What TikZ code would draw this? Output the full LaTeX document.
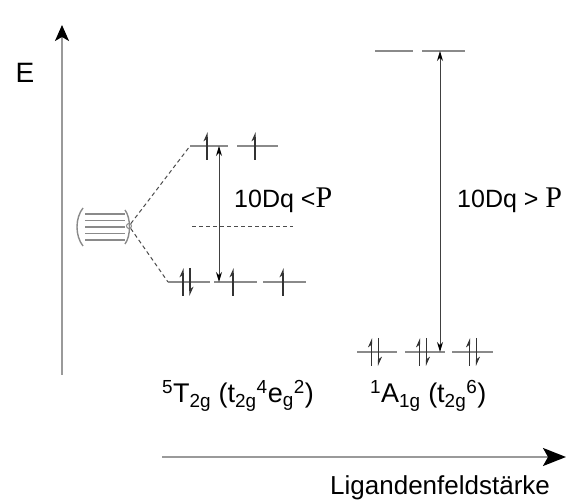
\documentclass[tikz,border=0pt]{standalone}
\usepackage{fontspec}
\setmainfont{Liberation Sans}
\newfontfamily\pserif{Liberation Serif}
\usepackage{tikz}
\usetikzlibrary{arrows.meta,calc}
\definecolor{lvlgray}{HTML}{8A8A8A}
\definecolor{axgray}{HTML}{9A9A9A}
\tikzset{
  level/.style={
    draw=lvlgray,
    line width=1.8pt
  },
  axis/.style={
    draw=axgray,
    line width=2pt,
    -{Stealth[length=16pt,width=14pt,inset=4pt,black]}
  },
  gap/.style={
    draw=black!75,
    line width=1pt,
    {Stealth[length=10pt,width=6pt,black]}-{Stealth[length=10pt,width=6pt,black]}
  },
  split/.style={
    draw=black!70,
    line width=1pt,
    dash pattern=on 4pt off 3pt
  },
  elup/.pic={
    \draw[black!80, line width=1.2pt, -{Stealth[left,length=8pt,width=7pt]}] (0,-14) -- (0,14);
  },
  eldown/.pic={
    \draw[black!80, line width=1.2pt, -{Stealth[left,length=8pt,width=7pt]}] (0,14) -- (0,-14);
  },
  lbl/.style={
    inner sep=0pt,
    font=\fontsize{25}{30}\selectfont
  }
}

\begin{document}
\begin{tikzpicture}[x=1pt,y=1pt]
  \useasboundingbox (0,0) rectangle (567,502);

  % axes
  \coordinate (eorig) at (62,127);
  \coordinate (etip) at (62,477);
  \coordinate (lorig) at (162,45);
  \coordinate (ltip) at (566,45);
  \draw[axis] (eorig) -- (etip);
  \draw[axis, -{Stealth[length=23pt,width=18pt,inset=5pt,black]}] (lorig) -- (ltip);
  \node[lbl, font=\fontsize{28}{32}\selectfont] (elabel) at (25,429) {E};
  \node[lbl, font=\fontsize{26}{30}\selectfont, anchor=base west] (lfs) at (330,7) {Ligandenfeldstärke};

  % free ion
  \draw[lvlgray, line width=1.4pt] (83,294) .. controls (75,284) and (75,266) .. (83,256);
  \foreach \k in {-2,...,2}
    \draw[level, line width=1.5pt] (85,{275+6.5*\k}) -- (125,{275+6.5*\k});
  \draw[lvlgray, line width=1.4pt] (125,292) .. controls (131,284) and (131,266) .. (125,258);
  \node[draw=lvlgray, circle, inner sep=0pt, minimum size=5pt, line width=1pt] (ion) at (129,276) {};

  % high spin
  \coordinate (eg1a) at (190,356);
  \coordinate (eg1b) at (228,356);
  \coordinate (eg2a) at (237,356);
  \coordinate (eg2b) at (278,356);
  \coordinate (t1a) at (168,220);
  \coordinate (t1b) at (210,220);
  \coordinate (t2a) at (214,220);
  \coordinate (t2b) at (257,220);
  \coordinate (t3a) at (263,220);
  \coordinate (t3b) at (306,220);
  \coordinate (barya) at (192,275);
  \coordinate (baryb) at (293,275);
  \draw[split] (ion) -- (eg1a);
  \draw[split] (ion) -- (t1a);
  \draw[split] (barya) -- (baryb);
  \draw[level] (eg1a) -- (eg1b);
  \draw[level] (eg2a) -- (eg2b);
  \draw[level] (t1a) -- (t1b);
  \draw[level] (t2a) -- (t2b);
  \draw[level] (t3a) -- (t3b);
  \pic at (207,356) {elup};
  \pic at (255,356) {elup};
  \pic at (183,220) {elup};
  \pic at (190,220) {eldown};
  \pic at (233,220) {elup};
  \pic at (283,220) {elup};
  \coordinate (dqtop) at (219,356);
  \coordinate (dqbot) at (219,220);
  \draw[gap] (dqbot) -- (dqtop);
  \node[lbl, anchor=base west] (hslabel) at (234,294) {10Dq <{\pserif\fontsize{30}{32}\selectfont P}};

  % low spin
  \coordinate (ueg1a) at (375,451);
  \coordinate (ueg1b) at (413,451);
  \coordinate (ueg2a) at (422,451);
  \coordinate (ueg2b) at (465,451);
  \coordinate (lt1a) at (357,150);
  \coordinate (lt1b) at (397,150);
  \coordinate (lt2a) at (405,150);
  \coordinate (lt2b) at (445,150);
  \coordinate (lt3a) at (452,150);
  \coordinate (lt3b) at (493,150);
  \draw[level] (ueg1a) -- (ueg1b);
  \draw[level] (ueg2a) -- (ueg2b);
  \draw[level] (lt1a) -- (lt1b);
  \draw[level] (lt2a) -- (lt2b);
  \draw[level] (lt3a) -- (lt3b);
  \foreach \c in {375,423,473} {
    \pic at (\c-3.5,150) {elup};
    \pic at (\c+3.5,150) {eldown};
  }
  \coordinate (DQtop) at (440,451);
  \coordinate (DQbot) at (440,150);
  \draw[gap] (DQbot) -- (DQtop);
  \node[lbl, anchor=base west] (lslabel) at (457,294) {10Dq > {\pserif\fontsize{30}{32}\selectfont P}};

  % term symbols
  \node[lbl, font=\fontsize{27}{30}\selectfont, anchor=base west] (hsterm) at (162,99)
    {\textsuperscript{5}T\textsubscript{2g} (t\textsubscript{2g}\textsuperscript{4}e\textsubscript{g}\textsuperscript{2})};
  \node[lbl, font=\fontsize{27}{30}\selectfont, anchor=base west] (lsterm) at (370,99)
    {\textsuperscript{1}A\textsubscript{1g} (t\textsubscript{2g}\textsuperscript{6})};
\end{tikzpicture}
\end{document}
